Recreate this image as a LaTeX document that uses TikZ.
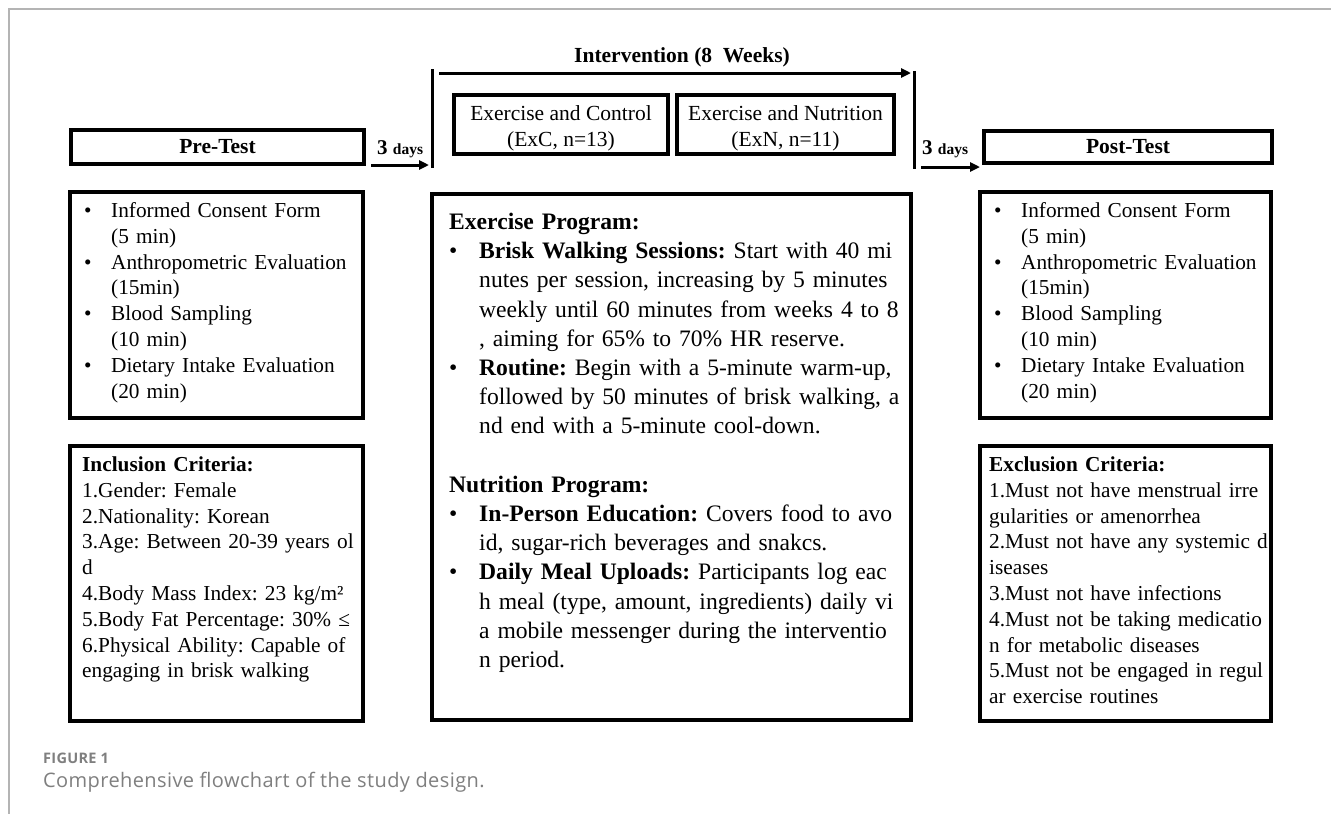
\documentclass[tikz,border=0pt]{standalone}
\usepackage{fontspec}
\setmainfont{Liberation Serif}
\newfontfamily\capfont[LetterSpace=2]{Open Sans}
\usetikzlibrary{arrows.meta}
\definecolor{framegray}{HTML}{B4B4B4}
\definecolor{capgray}{HTML}{7F7F7F}
\newcommand{\blt}{\makebox[27pt][l]{\textbullet}}
\newcommand{\ind}{\hspace*{27pt}}
\newcommand{\mblt}{\makebox[30pt][l]{\textbullet}}
\newcommand{\mind}{\hspace*{30pt}}
\begin{document}
\frenchspacing
\begin{tikzpicture}[x=1pt,y=-1pt,
  frame/.style={draw=framegray, line width=1.5pt},
  hbox/.style={draw=black, line width=3.5pt, inner sep=0pt, font=\fontsize{21.5}{25.8}\selectfont\bfseries},
  gbox/.style={draw=black, line width=3.5pt, inner sep=0pt},
  gtext/.style={align=center, inner sep=0pt, yshift=-4pt, font=\fontsize{21.5}{25.8}\selectfont},
  cbox/.style={draw=black, line width=3.5pt, inner sep=0pt},
  bar/.style={line width=3pt},
  arr/.style={line width=3pt, -{Triangle[length=10pt,width=9pt]}},
  stext/.style={anchor=base west, inner sep=0pt, text width=330pt, align=left, font=\fontsize{21.3}{25.8}\selectfont},
  mtext/.style={anchor=base west, inner sep=0pt, text width=600pt, align=left, font=\fontsize{23.6}{29.2}\selectfont},
  days/.style={anchor=base west, inner sep=0pt, font=\bfseries},
  captitle/.style={anchor=base west, inner sep=0pt, text=capgray, font=\capfont\fontsize{14.5}{16}\selectfont\bfseries},
  captext/.style={anchor=base west, inner sep=0pt, text=capgray, font=\capfont\fontsize{20}{22}\selectfont},
]
\useasboundingbox (0,0) rectangle (1331,814);
\fill[white] (0,0) rectangle (1331,814);

% outer frame
\coordinate (fa) at (9,814);
\coordinate (fb) at (9,9);
\coordinate (fc) at (1331,9);
\draw[frame] (fa) -- (fb) -- (fc);

% headings
\node[hbox, minimum width=293pt, minimum height=34pt] (pre) at (217.5,147) {Pre-Test};
\node[hbox, minimum width=288pt, minimum height=32pt] (post) at (1128,147) {Post-Test};
\node[inner sep=0pt, font=\fontsize{21.5}{25.8}\selectfont\bfseries] (interv) at (682,57) {Intervention (8\ \ Weeks)};

% group boxes
\node[gbox, minimum width=214pt, minimum height=59pt, label={[gtext]center:{Exercise and Control\\(ExC, n=13)}}] (exc) at (561,124.5) {};
\node[gbox, minimum width=217pt, minimum height=59pt, label={[gtext]center:{Exercise and Nutrition\\(ExN, n=11)}}] (exn) at (785.5,124.5) {};

% bars and arrows
\coordinate (lbt) at (432,69);
\coordinate (lbb) at (432,168);
\coordinate (rbt) at (914,71);
\coordinate (rbb) at (914,169);
\draw[bar] (lbt) -- (lbb);
\draw[bar] (rbt) -- (rbb);
\coordinate (ia) at (439,73);
\coordinate (ib) at (911,73);
\draw[arr] (ia) -- (ib);
\coordinate (la1) at (371,165);
\coordinate (la2) at (429,165);
\draw[arr] (la1) -- (la2);
\coordinate (ra1) at (921,167);
\coordinate (ra2) at (980,167);
\draw[arr] (ra1) -- (ra2);
\node[days] (d1) at (377,154) {\fontsize{21}{24}\selectfont 3 \fontsize{15.5}{18}\selectfont days};
\node[days] (d2) at (922,154) {\fontsize{21}{24}\selectfont 3 \fontsize{15.5}{18}\selectfont days};

% content boxes
\node[cbox, minimum width=293pt, minimum height=226pt] (prelist) at (216.5,305) {};
\node[cbox, minimum width=293pt, minimum height=275pt] (incl) at (216.5,583.5) {};
\node[cbox, minimum width=479pt, minimum height=526pt] (mid) at (671.5,457) {};
\node[cbox, minimum width=291pt, minimum height=226pt] (postlist) at (1125.5,305) {};
\node[cbox, minimum width=291pt, minimum height=275pt] (excl) at (1125.5,583.5) {};

% texts
\node[stext] (prelisttext) at (84,217.5) {\blt Informed Consent Form\\\ind(5 min)\\\blt Anthropometric Evaluation\\\ind(15min)\\\blt Blood Sampling\\\ind(10 min)\\\blt Dietary Intake Evaluation\\\ind(20 min)};
\node[stext] (postlisttext) at (994,217.5) {\blt Informed Consent Form\\\ind(5 min)\\\blt Anthropometric Evaluation\\\ind(15min)\\\blt Blood Sampling\\\ind(10 min)\\\blt Dietary Intake Evaluation\\\ind(20 min)};
\node[stext] (incltext) at (82,471.5) {\textbf{Inclusion Criteria:}\\1.Gender: Female\\2.Nationality: Korean\\3.Age: Between 20-39 years ol\\d\\4.Body Mass Index: 23 kg/m²\\5.Body Fat Percentage: 30\% ≤\\6.Physical Ability: Capable of\\engaging in brisk walking};
\node[stext] (excltext) at (989,471.5) {\textbf{Exclusion Criteria:}\\1.Must not have menstrual irre\\gularities or amenorrhea\\2.Must not have any systemic d\\iseases\\3.Must not have infections\\4.Must not be taking medicatio\\n for metabolic diseases\\5.Must not be engaged in regul\\ar exercise routines};
\node[mtext] (midtext) at (449,229.5) {\textbf{Exercise Program:}\\
\mblt\textbf{Brisk Walking Sessions:} Start with 40 mi\\
\mind nutes per session, increasing by 5 minutes\\
\mind weekly until 60 minutes from weeks 4 to 8\\
\mind , aiming for 65\% to 70\% HR reserve.\\
\mblt\textbf{Routine:} Begin with a 5-minute warm-up,\\
\mind followed by 50 minutes of brisk walking, a\\
\mind nd end with a 5-minute cool-down.\\[29.2pt]
\textbf{Nutrition Program:}\\
\mblt\textbf{In-Person Education:} Covers food to avo\\
\mind id, sugar-rich beverages and snakcs.\\
\mblt\textbf{Daily Meal Uploads:} Participants log eac\\
\mind h meal (type, amount, ingredients) daily vi\\
\mind a mobile messenger during the interventio\\
\mind n period.};

% caption
\node[captitle] (figlabel) at (43,763) {FIGURE 1};
\node[captext] (figcap) at (43,787) {Comprehensive flowchart of the study design.};
\end{tikzpicture}
\end{document}
